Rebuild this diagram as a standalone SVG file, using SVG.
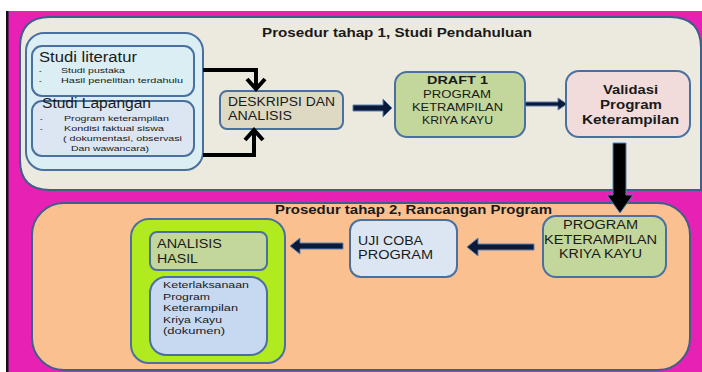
<svg xmlns="http://www.w3.org/2000/svg" width="702" height="372" viewBox="0 0 702 372">
<style>
text{font-family:"Liberation Sans",Arial,sans-serif;fill:#1a1a1a}
.b{font-weight:bold}
.box{stroke:#4a70a0;stroke-width:2}
.panel{stroke:#3d5f8a;stroke-width:2}
.blk{fill:none;stroke:#000;stroke-width:4;stroke-linejoin:miter}
.nav{fill:#0c1a3a;stroke:#5a80b0;stroke-width:1}
.sm{font-size:8px}
</style>
<rect x="0" y="0" width="702" height="372" fill="#fff"/>
<rect x="8" y="11" width="694" height="361" fill="#e621b4"/>
<rect x="6" y="11" width="2.5" height="361" fill="#111"/>
<g id="panel1">
<path class="panel" d="M50,17 H670 Q701,17 701,48 V190 H50 Q20,190 20,160 V47 Q20,17 50,17 Z" fill="#ece9df"/>
<text class="b" x="262" y="37" font-size="12.5" textLength="270" lengthAdjust="spacingAndGlyphs">Prosedur tahap 1, Studi Pendahuluan</text>
</g>
<g id="panel2">
<rect class="panel" x="32" y="203" width="658" height="167" rx="32" fill="#fac08f"/>
<text class="b" x="275" y="214" font-size="12.5" textLength="277" lengthAdjust="spacingAndGlyphs">Prosedur tahap 2, Rancangan Program</text>
</g>
<g id="studi-group">
<rect class="box" x="26" y="33" width="177" height="137" rx="18" fill="#dbeef4"/>
</g>
<g id="studi-literatur">
<rect class="box" x="32" y="46" width="162" height="50" rx="10" fill="#dbeef4"/>
<text x="39" y="62" font-size="14" textLength="98" lengthAdjust="spacingAndGlyphs">Studi literatur</text>
<text class="sm" x="39" y="73">-</text>
<text class="sm" x="61" y="73" textLength="64" lengthAdjust="spacingAndGlyphs">Studi pustaka</text>
<text class="sm" x="39" y="83">-</text>
<text class="sm" x="61" y="83" textLength="122" lengthAdjust="spacingAndGlyphs">Hasil penelitian terdahulu</text>
</g>
<g id="studi-lapangan">
<rect class="box" x="32" y="101" width="162" height="55" rx="10" fill="#dce6f2"/>
<text x="42" y="108" font-size="14" textLength="109" lengthAdjust="spacingAndGlyphs">Studi Lapangan</text>
<text class="sm" x="40" y="121">-</text>
<text class="sm" x="64" y="121" textLength="105" lengthAdjust="spacingAndGlyphs">Program keterampilan</text>
<text class="sm" x="40" y="131">-</text>
<text class="sm" x="64" y="131" textLength="100" lengthAdjust="spacingAndGlyphs">Kondisi faktual  siswa</text>
<text class="sm" x="63" y="141" textLength="119" lengthAdjust="spacingAndGlyphs">( dokumentasi, observasi</text>
<text class="sm" x="71" y="151" textLength="78" lengthAdjust="spacingAndGlyphs">Dan wawancara)</text>
</g>
<g id="deskripsi">
<rect class="box" x="220" y="91" width="123" height="38" rx="7" fill="#ddd9c3"/>
<text x="228" y="106" font-size="12" textLength="107" lengthAdjust="spacingAndGlyphs">DESKRIPSI DAN</text>
<text x="228" y="120" font-size="12" textLength="64" lengthAdjust="spacingAndGlyphs">ANALISIS</text>
</g>
<g id="draft1">
<rect class="box" x="395" y="72" width="130" height="65" rx="12" fill="#c3d69b"/>
<text class="b" x="427" y="84" font-size="11.5" textLength="61" lengthAdjust="spacingAndGlyphs">DRAFT 1</text>
<text x="423" y="98" font-size="11" textLength="68" lengthAdjust="spacingAndGlyphs">PROGRAM</text>
<text x="412" y="111" font-size="11" textLength="91" lengthAdjust="spacingAndGlyphs">KETRAMPILAN</text>
<text x="422" y="124" font-size="11" textLength="71" lengthAdjust="spacingAndGlyphs">KRIYA KAYU</text>
</g>
<g id="validasi">
<rect class="box" x="566" y="71" width="124" height="66" rx="13" fill="#f2dcdb"/>
<text class="b" x="603" y="94" font-size="12" textLength="55" lengthAdjust="spacingAndGlyphs">Validasi</text>
<text class="b" x="600" y="109" font-size="12" textLength="62" lengthAdjust="spacingAndGlyphs">Program</text>
<text class="b" x="582" y="124" font-size="12" textLength="97" lengthAdjust="spacingAndGlyphs">Keterampilan</text>
</g>
<g id="program-keterampilan">
<rect class="box" x="543" y="216" width="123" height="61" rx="13" fill="#c3d69b"/>
<text x="563" y="229" font-size="12" textLength="75" lengthAdjust="spacingAndGlyphs">PROGRAM</text>
<text x="544" y="244" font-size="12" textLength="113" lengthAdjust="spacingAndGlyphs">KETERAMPILAN</text>
<text x="559" y="258" font-size="12" textLength="83" lengthAdjust="spacingAndGlyphs">KRIYA KAYU</text>
</g>
<g id="uji-coba">
<rect class="box" x="350" y="220" width="107" height="57" rx="11" fill="#dce6f2"/>
<text x="358" y="245" font-size="12" textLength="65" lengthAdjust="spacingAndGlyphs">UJI COBA</text>
<text x="358" y="259" font-size="12" textLength="75" lengthAdjust="spacingAndGlyphs">PROGRAM</text>
</g>
<g id="hasil-group">
<rect class="box" x="131" y="219" width="154" height="144" rx="18" fill="#b0ea1f"/>
</g>
<g id="analisis-hasil">
<rect class="box" x="150" y="232" width="117" height="38" rx="7" fill="#c3d69b"/>
<text x="157" y="248" font-size="13" textLength="65" lengthAdjust="spacingAndGlyphs">ANALISIS</text>
<text x="157" y="263" font-size="13" textLength="41" lengthAdjust="spacingAndGlyphs">HASIL</text>
</g>
<g id="keterlaksanaan">
<rect class="box" x="150" y="277" width="117" height="78" rx="16" fill="#c6d9f1"/>
<text x="163" y="288" font-size="9.5" textLength="86" lengthAdjust="spacingAndGlyphs">Keterlaksanaan</text>
<text x="163" y="300" font-size="9.5" textLength="47" lengthAdjust="spacingAndGlyphs">Program</text>
<text x="163" y="311" font-size="9.5" textLength="75" lengthAdjust="spacingAndGlyphs">Keterampilan</text>
<text x="163" y="323" font-size="9.5" textLength="59" lengthAdjust="spacingAndGlyphs">Kriya Kayu</text>
<text x="163" y="334" font-size="9.5" textLength="62" lengthAdjust="spacingAndGlyphs">(dokumen)</text>
</g>
<g id="connectors">
<path class="blk" d="M203,70 H256 V88"/>
<path class="blk" d="M247,79 L256,89 L265,79"/>
<path class="blk" d="M203,155 H254 V131"/>
<path class="blk" d="M245,140 L254,130 L263,140"/>
<polygon class="nav" points="353,105 383,105 383,99 392,108 383,117 383,111 353,111"/>
<polygon class="nav" points="525,102 558,102 558,98 567,104 558,110 558,106 525,106"/>
<polygon points="613,143 626,143 626,195 633,195 620,213 607,195 613,195" fill="#000" stroke="#5a80b0" stroke-width="1"/>
<polygon class="nav" points="534,244 478,244 478,238 467,247 478,256 478,250 534,250"/>
<polygon class="nav" points="343,243 300,243 300,238 290,246 300,254 300,249 343,249"/>
</g>
</svg>
